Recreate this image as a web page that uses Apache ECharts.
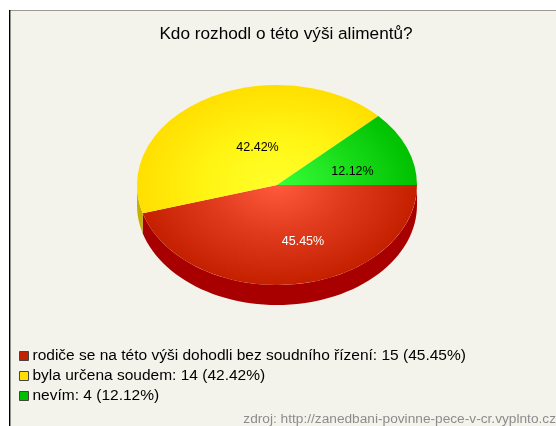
<!DOCTYPE html>
<html><head><meta charset="utf-8">
<style>html,body{margin:0;padding:0;background:#fff}#c{width:556px;height:426px}</style>
<script src="https://cdn.jsdelivr.net/npm/echarts@6/dist/echarts.min.js"></script>
</head><body><div id="c"></div>
<script>
const chartTitle = 'Kdo rozhodl o této výši alimentů?';
const sourceNote = 'zdroj: http://zanedbani-povinne-pece-v-cr.vyplnto.cz';
const categories = ['rodiče se na této výši dohodli bez soudního řízení', 'byla určena soudem', 'nevím'];
const counts = [15, 14, 4];
const percentLabels = ['45.45%', '42.42%', '12.12%'];

const total = counts.reduce((a, b) => a + b, 0);
const CX = 277, CY = 185, RX = 140, RY = 100, DEPTH = 20;
const edgeColors = ['#c42000', '#ffdf00', '#00c000'];
const midColors = ['#ff5a3c', '#ffff2a', '#38ff38'];
const halfColors = ['#e03a1c', '#fff514', '#1ce01c'];
const wallColors = ['#a80000', '#c8b000', '#008000'];
const legendColors = ['#c42000', '#ffdf00', '#00c000'];
const labelColors = ['#ffffff', '#000000', '#000000'];
const labelNudge = [[15, 2], [19, 10], [4, 7]];

function startOf(i) {
  return counts.slice(0, i).reduce((a, b) => a + b, 0) / total * Math.PI * 2;
}
function endOf(i) {
  return counts.slice(0, i + 1).reduce((a, b) => a + b, 0) / total * Math.PI * 2;
}
function wallPoints(a0, a1) {
  const s = Math.min(a0, Math.PI), e = Math.min(a1, Math.PI);
  if (e <= s) return null;
  const top = [], bottom = [];
  for (let k = 0; k <= 60; k++) {
    const t = s + (e - s) * k / 60;
    const x = CX + RX * Math.cos(t), y = CY + RY * Math.sin(t);
    top.push([x, y]);
    bottom.unshift([x, y + DEPTH]);
  }
  return top.concat(bottom);
}
function renderSlice(i) {
  return function (params, api) {
    const a0 = startOf(i), a1 = endOf(i);
    const children = [];
    const wall = wallPoints(a0, a1);
    if (wall) children.push({
      type: 'polygon', z2: 1, shape: { points: wall },
      style: { fill: wallColors[i] }, silent: true
    });
    children.push({
      type: 'sector', z2: 2, x: CX, y: CY, scaleY: RY / RX, silent: true,
      shape: { cx: 0, cy: 0, r: RX, r0: 0, startAngle: a0, endAngle: a1, clockwise: true },
      style: {
        fill: {
          type: 'radial', global: true, x: 0, y: 0, r: RX,
          colorStops: [
            { offset: 0, color: midColors[i] },
            { offset: 0.5, color: halfColors[i] },
            { offset: 1, color: edgeColors[i] }
          ]
        }
      }
    });
    const mid = (a0 + a1) / 2;
    children.push({
      type: 'text', z2: 3, silent: true,
      x: CX + RX * 0.55 * Math.cos(mid) + labelNudge[i][0],
      y: CY + RY * 0.55 * Math.sin(mid) + labelNudge[i][1],
      style: {
        text: percentLabels[i], fill: labelColors[i],
        font: '12.5px "Liberation Sans", Arial, sans-serif',
        align: 'center', verticalAlign: 'middle'
      }
    });
    return { type: 'group', children };
  };
}

const chart = echarts.init(document.getElementById('c'), null, { renderer: 'canvas' });
chart.setOption({
  animation: false,
  backgroundColor: '#ffffff',
  title: [
    {
      text: chartTitle, left: 281, top: 21, textAlign: 'center',
      textStyle: { fontFamily: '"Liberation Sans", Arial, sans-serif', fontSize: 17.2, fontWeight: 'normal', color: '#000' }
    },
    {
      text: sourceNote, right: 0, top: 412, padding: 0,
      textStyle: { fontFamily: '"Liberation Sans", Arial, sans-serif', fontSize: 13.7, fontWeight: 'normal', color: '#8c8c8c' }
    }
  ],
  graphic: [
    { type: 'rect', z: -10, shape: { x: 10, y: 10, width: 546, height: 416 }, style: { fill: '#f4f3eb' }, silent: true },
    { type: 'rect', z: -9, shape: { x: 10, y: 10, width: 546, height: 1 }, style: { fill: '#9a9a92' }, silent: true },
    { type: 'rect', z: -9, shape: { x: 9, y: 10, width: 1.4, height: 416 }, style: { fill: '#000000' }, silent: true }
  ],
  legend: {
    orient: 'vertical', left: 19, top: 348, itemWidth: 9, itemHeight: 9, itemGap: 4,
    padding: 0, selectedMode: false, icon: 'rect',
    itemStyle: { borderColor: '#444', borderWidth: 1 },
    textStyle: { fontFamily: '"Liberation Sans", Arial, sans-serif', fontSize: 15.5, color: '#000', padding: [0, 0, 0, -1] },
    formatter: name => {
      const i = categories.indexOf(name);
      return `${name}: ${counts[i]} (${percentLabels[i]})`;
    },
    data: categories
  },
  series: categories.map((name, i) => ({
    type: 'custom', name, coordinateSystem: 'none',
    itemStyle: { color: legendColors[i] },
    data: [[counts[i]]],
    renderItem: renderSlice(i)
  }))
});
</script></body></html>
